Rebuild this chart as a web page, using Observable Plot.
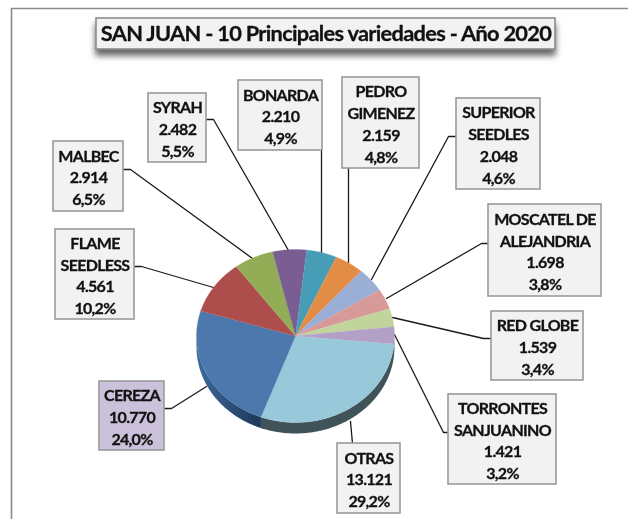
<!DOCTYPE html>
<html>
<head>
<meta charset="utf-8">
<script src="https://cdn.jsdelivr.net/npm/d3@7"></script>
<script src="https://cdn.jsdelivr.net/npm/@observablehq/plot@0.6"></script>
<style>
html,body{margin:0;padding:0;background:#fff;}
svg{display:block;filter:blur(0.3px);}
</style>
</head>
<body>
<div id="chart"></div>
<script>
// --- data ---
const title = "SAN JUAN - 10 Principales variedades - Año 2020";
const varieties = ["OTRAS","CEREZA","FLAME\nSEEDLESS","MALBEC","SYRAH","BONARDA","PEDRO\nGIMENEZ","SUPERIOR\nSEEDLES","MOSCATEL DE\nALEJANDRIA","RED GLOBE","TORRONTES\nSANJUANINO"];
const hectares = [13121,10770,4561,2914,2482,2210,2159,2048,1698,1539,1421];
const shares = ["29,2%","24,0%","10,2%","6,5%","5,5%","4,9%","4,8%","4,6%","3,8%","3,4%","3,2%"];

// --- styles ---
const sliceColors = ["#98c9db","#4d78ae","#ae4e4c","#93ac56","#7a5e93","#479cb6","#e28c46","#9aaed6","#d89a99","#c1d49c","#b2a0c7"];
const wallColors = ["#3f5359","url(#cerezaWall)","#3f5359","#3f5359","#3f5359","#3f5359","#3f5359","#3f5359","#3f5359","#3f5359","#4c5560"];
const FONT = "Lato, Carlito, sans-serif";

// --- layout (page furniture, in pixels) ---
const pie = {cx:295, cy:335.5, rx:99, ry:86.5, depth:11, start:95.3};
const boxes = [[337,443,400,513],[99,381,164,450],[55,229,134,319],[53,141,123,211],[148,93,206,162],[238,80,322,150],[342,77,419,168],[456,98,540,189],[488,204,601,296],[491,311,583,380],[448,394,556,484]];
const leaders = [
  [[352,443],[350,421]],
  [[164,408],[171,408],[206,386]],
  [[134,266],[141,266],[213,287]],
  [[123,169],[130,169],[252,258]],
  [[206,119],[213,119],[288,250]],
  [[321,150],[321,253]],
  [[348,168],[348,263]],
  [[456,136],[448,136],[371,279]],
  [[488,243],[481,243],[386,298]],
  [[491,338],[483,338],[392,317]],
  [[448,432],[443,432],[394,334]]
];

// --- geometry derived from the values ---
const total = d3.sum(hectares);
const pt = (deg, off=0) => {
  const a = deg * Math.PI / 180;
  return [pie.cx + pie.rx * Math.sin(a), pie.cy - pie.ry * Math.cos(a) + off];
};
const arc = (a0, a1, off=0) => {
  const out = [];
  for (let a = a0; a < a1; a += 0.5) out.push(pt(a, off));
  out.push(pt(a1, off));
  return out;
};
const sliceRows = [], wallRows = [];
let acc = pie.start;
hectares.forEach((v, i) => {
  const a0 = acc, a1 = acc + v / total * 360; acc = a1;
  const key = "s" + i, color = sliceColors[i];
  [[pie.cx, pie.cy], ...arc(a0, a1)].forEach(([x,y]) => sliceRows.push({key, color, x, y}));
  // the side wall: only the near half of the disc shows one
  const lo = Math.max(a0, 90), hi = Math.min(a1, 270);
  if (hi > lo) [...arc(lo, hi), ...arc(lo, hi, pie.depth).reverse()]
    .forEach(([x,y]) => wallRows.push({key:"w"+i, color:wallColors[i], x, y}));
  // the last slice wraps past 360 up to the start angle
  if (a1 > 360 + 90) [...arc(90, a1 - 360), ...arc(90, a1 - 360, pie.depth).reverse()]
    .forEach(([x,y]) => wallRows.push({key:"wrap"+i, color:wallColors[i], x, y}));
});

const leaderRows = leaders.flatMap((l, i) => l.map(([x,y]) => ({i, x, y})));
const boxRows = boxes.map(([x1,y1,x2,y2], i) => ({
  x1, y1, x2, y2, i,
  fill: i === 1 ? "#ccc1da" : "#f2f2f2",
  label: `${varieties[i]}\n${d3.format(",")(hectares[i]).replace(/,/g, ".")}\n${shares[i]}`
}));
const titleRow = [{x1:96, y1:18, x2:555, y2:49}];

const chart = Plot.plot({
  width: 628, height: 519,
  margin: 0,
  style: {background:"#fff", fontFamily: FONT, letterSpacing:"-0.7px"},
  x: {type:"linear", domain:[0,628], range:[0,628], axis:null},
  y: {type:"linear", domain:[0,519], range:[0,519], axis:null},
  marks: [
    Plot.ruleX([11], {y1:8, y2:519, stroke:"#8a8a8a", strokeWidth:1.6}),
    Plot.ruleY([8], {x1:11, x2:628, stroke:"#8a8a8a", strokeWidth:1.6}),
    Plot.line(leaderRows, {x:"x", y:"y", z:"i", stroke:"#1a1a1a", strokeWidth:1.3}),
    ...d3.groups(wallRows, d => d.key).map(([, rows]) =>
      Plot.line(rows, {x:"x", y:"y", fill:rows[0].color, stroke:"none"})),
    Plot.line(sliceRows, {x:"x", y:"y", z:"key", fill:"color", stroke:"color", strokeWidth:0.3}),
    Plot.rect(boxRows, {x1:"x1", y1:"y1", x2:"x2", y2:"y2", fill:"fill", stroke:"#9a9a9a", strokeWidth:1.6}),
    Plot.text(boxRows, {
      x: d => (d.x1 + d.x2) / 2, y: d => (d.y1 + d.y2) / 2, text:"label",
      fontFamily: FONT, fontWeight:700, fontSize:16, fill:"#111", stroke:"#111", strokeWidth:0.3,
      lineHeight:1.36, lineAnchor:"middle"
    }),
    Plot.rect(titleRow, {x1:"x1", y1:"y1", x2:"x2", y2:"y2", fill:"#f2f2f2", stroke:"#8c8c8c", strokeWidth:1.6,
      imageFilter:"drop-shadow(0px 6px 3px rgba(0,0,0,0.6))"}),
    Plot.text(titleRow, {
      x: d => (d.x1 + d.x2) / 2, y: d => (d.y1 + d.y2) / 2, text: () => title,
      fontFamily: FONT, fontWeight:700, fontSize:21.8, fill:"#111", stroke:"#111", strokeWidth:0.3, lineAnchor:"middle"
    })
  ]
});
const defs = d3.select(chart).insert("defs", ":first-child");
const grad = defs.append("linearGradient").attr("id", "cerezaWall").attr("gradientUnits", "userSpaceOnUse")
  .attr("x1", 262).attr("x2", 196).attr("y1", 0).attr("y2", 0);
grad.append("stop").attr("offset", "0").attr("stop-color", "#1d3557");
grad.append("stop").attr("offset", "1").attr("stop-color", "#3e6a9c");
document.getElementById("chart").appendChild(chart);
</script>
</body>
</html>
